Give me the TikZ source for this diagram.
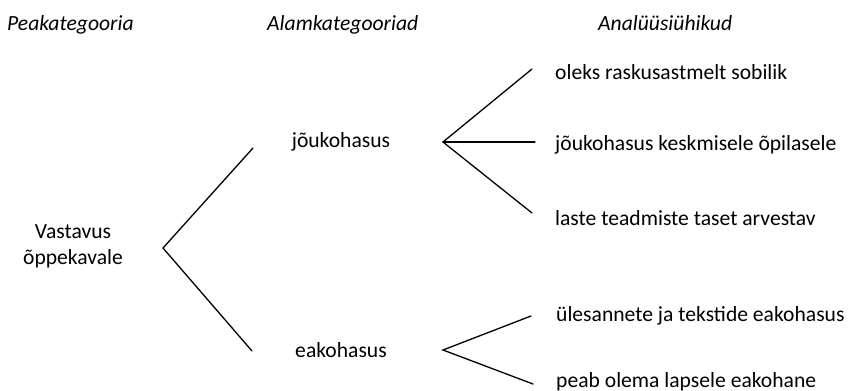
\documentclass[tikz,border=0pt]{standalone}
\usepackage{fontspec}
\setmainfont{Carlito}
\begin{document}
\begin{tikzpicture}[x=1pt,y=-1pt,
  every node/.style={inner sep=0pt,font=\fontsize{21.6}{26}\selectfont},
  hdr/.style={font=\fontsize{21.6}{26}\selectfont\itshape,anchor=base west},
  leaf/.style={anchor=base west},
  mid/.style={anchor=base},
  link/.style={line width=1.3pt,line cap=round}]
\useasboundingbox (0,0) rectangle (849,391);
% headers
\node[hdr] (h1) at (7,30) {Peakategooria};
\node[hdr] (h2) at (267,30) {Alamkategooriad};
\node[hdr] (h3) at (598,30) {Analüüsiühikud};
% root
\node[align=center] (root) at (73,246) {Vastavus\\õppekavale};
% subcategories
\node[mid] (jk) at (341,147) {jõukohasus};
\node[mid] (ek) at (341,357) {eakohasus};
% leaves
\node[leaf] (l1) at (555,79) {oleks raskusastmelt sobilik};
\node[leaf] (l2) at (555,150) {jõukohasus keskmisele õpilasele};
\node[leaf] (l3) at (555,225) {laste teadmiste taset arvestav};
\node[leaf] (l4) at (556,321) {ülesannete ja tekstide eakohasus};
\node[leaf] (l5) at (556,387) {peab olema lapsele eakohane};
% fork coordinates
\coordinate (v0) at (163,248);
\coordinate (v0a) at (253,148);
\coordinate (v0b) at (252,351);
\coordinate (v1) at (443,142);
\coordinate (v1a) at (532,69);
\coordinate (v1b) at (535,142);
\coordinate (v1c) at (532,213);
\coordinate (v2) at (443,350);
\coordinate (v2a) at (531,316);
\coordinate (v2b) at (533,384);
% connectors
\draw[link] (v0a) -- (v0) -- (v0b);
\draw[link] (v1a) -- (v1) -- (v1c);
\draw[link] (v1) -- (v1b);
\draw[link] (v2a) -- (v2) -- (v2b);
\end{tikzpicture}
\end{document}
